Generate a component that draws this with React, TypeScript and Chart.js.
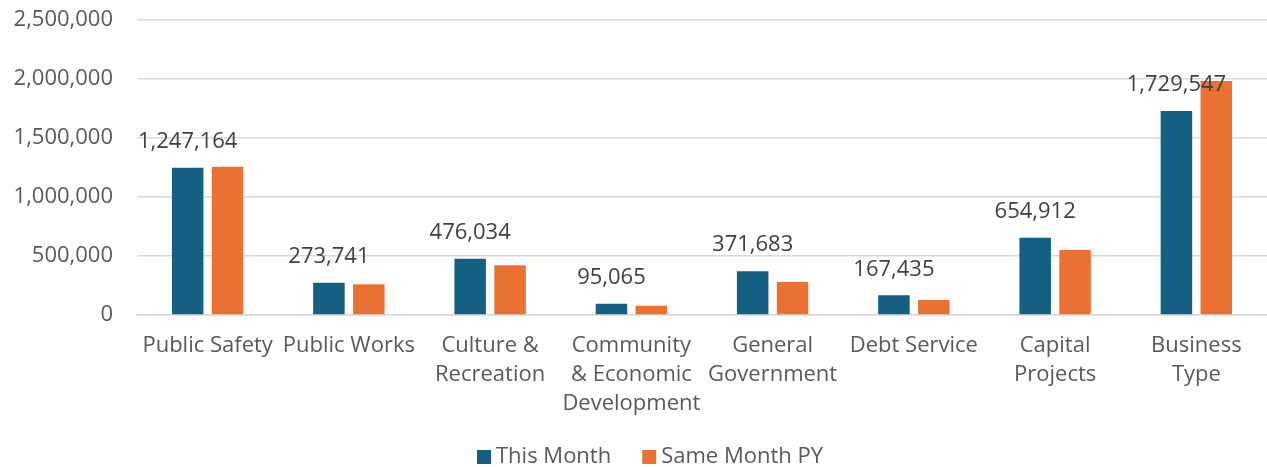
import React, { useEffect, useRef } from "react";
import { Chart, registerables } from "chart.js";

Chart.register(...registerables);

const categories: (string | string[])[] = [
  "Public Safety",
  "Public Works",
  ["Culture &", "Recreation"],
  ["Community", "& Economic", "Development"],
  ["General", "Government"],
  "Debt Service",
  ["Capital", "Projects"],
  ["Business", "Type"],
];

const thisMonth = [1247164, 273741, 476034, 95065, 371683, 167435, 654912, 1729547];
const sameMonthPY = [1257000, 260000, 421000, 79000, 280000, 127000, 551000, 1983000];

const seriesNames = ["This Month", "Same Month PY"];
const seriesColors = ["#156082", "#E97132"];

const yMax = 2500000;
const yStep = 500000;

const FONT = "'Open Sans', 'Noto Sans', sans-serif";
const fmt = (v: number) => v.toLocaleString("en-US");

const dataLabelPlugin = {
  id: "dataLabels",
  afterDatasetsDraw(chart: any) {
    const ctx = chart.ctx;
    const meta = chart.getDatasetMeta(0);
    ctx.save();
    ctx.font = `22px ${FONT}`;
    ctx.fillStyle = "#404040";
    ctx.textAlign = "center";
    ctx.textBaseline = "middle";
    meta.data.forEach((el: any, i: number) => {
      ctx.fillText(fmt(thisMonth[i]), el.x, el.y - 26);
    });
    ctx.restore();
  },
};

const legendPlugin = {
  id: "customLegend",
  afterDraw(chart: any) {
    const ctx = chart.ctx;
    ctx.save();
    ctx.font = `22px ${FONT}`;
    ctx.textBaseline = "middle";
    ctx.textAlign = "left";
    const box = 14;
    const gapText = 5;
    const gapItem = 31;
    const widths = seriesNames.map((n) => box + gapText + ctx.measureText(n).width);
    const total = widths.reduce((a, b) => a + b, 0) + gapItem * (widths.length - 1);
    let x = 650 - total / 2;
    const cy = 457;
    seriesNames.forEach((n, i) => {
      ctx.fillStyle = seriesColors[i];
      ctx.fillRect(x, cy - box / 2, box, box);
      ctx.fillStyle = "#595959";
      ctx.fillText(n, x + box + gapText, cy);
      x += widths[i] + gapItem;
    });
    ctx.restore();
  },
};

export default function App() {
  const ref = useRef<HTMLCanvasElement | null>(null);
  useEffect(() => {
    document.body.style.margin = "0";
    const chart = new Chart(ref.current!, {
      type: "bar",
      data: {
        labels: categories,
        datasets: [
          {
            label: seriesNames[0],
            data: thisMonth,
            backgroundColor: seriesColors[0],
            borderWidth: 0,
            categoryPercentage: 0.565,
            barPercentage: 0.79,
          },
          {
            label: seriesNames[1],
            data: sameMonthPY,
            backgroundColor: seriesColors[1],
            borderWidth: 0,
            categoryPercentage: 0.565,
            barPercentage: 0.79,
          },
        ],
      },
      options: {
        animation: false,
        responsive: false,
        maintainAspectRatio: false,
        layout: { padding: { top: 20, right: 0, bottom: 0, left: 0 } },
        plugins: {
          legend: { display: false },
          tooltip: { enabled: false },
        },
        scales: {
          x: {
            grid: { display: false, drawTicks: false },
            border: { display: true, color: "#d9d9d9", width: 1.5 },
            ticks: {
              color: "#595959",
              font: { family: FONT, size: 22, lineHeight: 1.32 },
              padding: 16,
              maxRotation: 0,
              autoSkip: false,
            },
            afterFit(scale: any) {
              scale.height = 152;
              scale.paddingLeft = 0;
              scale.paddingRight = 0;
            },
          },
          y: {
            min: 0,
            max: yMax,
            grid: { color: "#d9d9d9", lineWidth: 1.5, drawTicks: false },
            border: { display: false },
            ticks: {
              stepSize: yStep,
              color: "#595959",
              font: { family: FONT, size: 22 },
              padding: 24,
              callback: (v: any) => fmt(Number(v)),
            },
            afterFit(scale: any) {
              scale.width = 137;
              scale.paddingTop = 0;
              scale.paddingBottom = 0;
            },
          },
        },
      },
      plugins: [dataLabelPlugin, legendPlugin],
    });
    return () => chart.destroy();
  }, []);
  return (
    <div style={{ width: 1267, height: 467, background: "#fff" }}>
      <canvas ref={ref} width={1267} height={467} style={{ display: "block" }} />
    </div>
  );
}
